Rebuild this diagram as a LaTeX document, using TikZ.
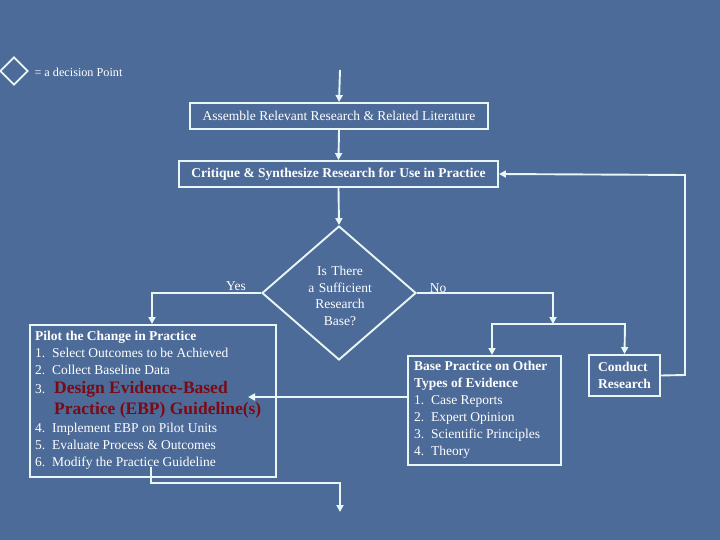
\documentclass[tikz,border=0pt]{standalone}
\usepackage{fontspec}
\setmainfont{Liberation Serif}
\usetikzlibrary{shapes.geometric,arrows.meta}
\definecolor{bg}{HTML}{4C6B98}
\definecolor{ln}{HTML}{E8F6F6}
\definecolor{dred}{HTML}{7A0A14}
\begin{document}
\begin{tikzpicture}[x=1pt,y=-1pt,
  box/.style={draw=ln,line width=1.9pt,text=white,font=\fontsize{13.5}{17}\selectfont,inner sep=3pt},
  conn/.style={draw=ln,line width=1.9pt},
  arr/.style={conn,-{Triangle[width=7pt,length=7pt]}},
  lbl/.style={text=white,font=\fontsize{13.5}{17}\selectfont}]
\fill[bg] (0,0) rectangle (720,540);
\useasboundingbox (0,0) rectangle (720,540);
\node[draw=ln,line width=1.9pt,diamond,minimum width=28pt,minimum height=28pt,inner sep=0] (leg) at (14,71) {};
\node[lbl,anchor=west,font=\fontsize{12.2}{14}\selectfont] (legt) at (31,72) {= a decision Point};
\coordinate (top) at (340,70);
\node[box,minimum width=298pt,minimum height=26pt] (b1) at (339,116) {Assemble Relevant Research \& Related Literature};
\node[box,minimum width=319pt,minimum height=26pt,font=\bfseries\fontsize{13.5}{17}\selectfont] (b2) at (338.5,174) {Critique \& Synthesize Research for Use in Practice};
\node[draw=ln,line width=1.9pt,diamond,minimum width=154pt,minimum height=134pt,inner sep=0,aspect=1.15] (d) at (339,293) {};
\node[lbl,align=center,text width=80pt,font=\fontsize{13.5}{16.5}\selectfont] (dt) at (340,296) {Is There\\a Sufficient\\Research\\Base?};
\node[lbl] (yes) at (236,286) {Yes};
\node[lbl] (no) at (438,288) {No};
\node[box,minimum width=246pt,minimum height=152pt,anchor=north west,inner sep=0] (pilot) at (29,324) {};
\node[lbl,anchor=north west,align=left,inner sep=0] (pt) at (35,331) {\textbf{Pilot the Change in Practice}\\
1.\ \ Select Outcomes to be Achieved\\
2.\ \ Collect Baseline Data};
\node[lbl,anchor=north west,inner sep=0] (p3) at (35,384) {3.};
\node[anchor=north west,align=left,text=dred,font=\bfseries\fontsize{17.5}{21}\selectfont,inner sep=0] (p3t) at (54,381) {Design Evidence-Based\\Practice (EBP) Guideline(s)};
\node[lbl,anchor=north west,align=left,inner sep=0] (pb) at (35,423) {4.\ \ Implement EBP on Pilot Units\\
5.\ \ Evaluate Process \& Outcomes\\
6.\ \ Modify the Practice Guideline};
\node[box,minimum width=153pt,minimum height=109pt,anchor=north west,inner sep=0] (base) at (407,355) {};
\node[lbl,anchor=north west,align=left,inner sep=0] (bt) at (414,361) {\textbf{Base Practice on Other}\\\textbf{Types of Evidence}\\
1.\ \ Case Reports\\2.\ \ Expert Opinion\\3.\ \ Scientific Principles\\4.\ \ Theory};
\node[box,minimum width=71pt,minimum height=41pt,align=left,font=\bfseries\fontsize{13.5}{17}\selectfont,inner sep=1pt] (cr) at (624.5,375.5) {Conduct\\Research};
\coordinate (bot) at (340,512);
\draw[arr] (top) -- (b1.north);
\draw[arr] (b1.south) -- (b2.north);
\draw[arr] (b2.south) -- (d.north);
\draw[arr] (d.west) -- (152,293) -- (152,324);
\draw[arr] (d.east) -- (553,293) -- (553,324);
\draw[arr] (553,324) -- (492,324) -- (base.north -| 492,0);
\draw[arr] (553,324) -- (625,324) -- (cr.north);
\draw[arr] (cr.east) -- (685,375) -- (685,175) -- (b2.east);
\draw[arr] (base.west |- 0,397) -- (248,397);
\draw[arr] (151,467) -- (151,483) -- (340,483) -- (bot);
\end{tikzpicture}
\end{document}
